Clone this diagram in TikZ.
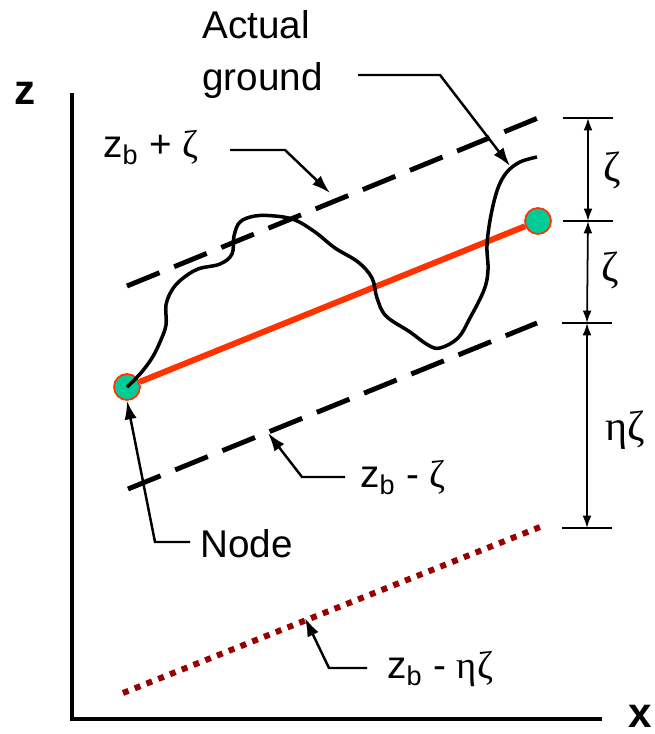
\documentclass[tikz,border=0pt]{standalone}
\usepackage{fontspec}
\setmainfont{Liberation Sans}
\newfontfamily\greekfont{Liberation Serif}
\usetikzlibrary{arrows.meta}
\definecolor{beamred}{HTML}{FF3300}
\definecolor{nodeteal}{HTML}{00CC99}
\definecolor{lowred}{HTML}{990000}

\begin{document}
\begin{tikzpicture}[x=0.02cm, y=-0.02cm, >={Latex[length=10.5pt,width=7pt]},
    lbl/.style={font=\fontsize{22}{26}\selectfont, inner sep=0pt},
    greek/.style={font=\fontsize{24}{28}\greekfont, inner sep=0pt},
    axislbl/.style={font=\fontsize{24}{28}\selectfont\bfseries, inner sep=0pt},
    leader/.style={line width=1.4pt, ->},
    band/.style={line width=2.8pt, dash pattern=on 20pt off 9pt},
    dimline/.style={line width=1pt, {Latex[length=7pt,width=5pt]}-{Latex[length=7pt,width=5pt]}},
    dimtick/.style={line width=1pt},
    bead/.style={circle, minimum size=0.52cm, inner sep=0pt, fill=nodeteal, draw=beamred, line width=1pt}]

    \useasboundingbox (0,0) rectangle (655,734);

    % 1. Points of the axes and of the three bands
    \coordinate (Zt) at (72,93);
    \coordinate (O)  at (72,719);
    \coordinate (Xr) at (602,719);
    \coordinate (U1) at (127,286); % z_b + zeta
    \coordinate (U2) at (538,118);
    \coordinate (L1) at (128,489); % z_b - zeta
    \coordinate (L2) at (537,323);
    \coordinate (D1) at (123,693); % z_b - eta zeta
    \coordinate (D2) at (540,527);

    % 2. Axes
    \draw[line width=2.3pt] (Zt) -- (O) -- (Xr);
    \node[axislbl] (zlbl) at (25,93)  {z};
    \node[axislbl] (xlbl) at (640,716) {x};

    % 3. Bands: dashed at +/- zeta, dotted at -eta zeta
    \draw[band] (U1) -- (U2);
    \draw[band] (L1) -- (L2);
    \draw[line width=3.4pt, lowred, dash pattern=on 3.4pt off 3.8pt] (D1) -- (D2);

    % 4. Element between the two nodes
    \node[bead] (nodeL) at (127,387) {};
    \node[bead] (nodeR) at (538,221) {};
    \draw[line width=3.4pt, beamred] (nodeL) -- (nodeR);

    % 5. Actual ground
    \draw[line width=2pt, line join=round, smooth, tension=0.6] plot coordinates {
      (127,387) (140,374) (152,358) (160,342) (166,325) (166,305) (172,290)
      (182,279) (198,269) (220,264) (232,254) (234,236) (240,222) (255,216)
      (275,216) (295,220) (315,232) (335,248) (358,262) (372,278) (377,298)
      (386,316) (410,332) (428,345) (440,348) (458,338) (470,318) (484,290)
      (488,270) (487,245) (491,215) (498,188) (507,172) (520,162) (537,157)};

    % 6. Labels with their leaders
    \node[lbl, anchor=base west] (actual) at (202,38) {Actual};
    \node[lbl, anchor=base west] (ground) at (202,90) {ground};
    \coordinate (ag1) at (358,75);
    \coordinate (ag2) at (440,75);
    \coordinate (agtip) at (510,166);
    \draw[leader] (ag1) -- (ag2) -- (agtip);

    \node[lbl, anchor=base west] (upper) at (103,157) {z\textsubscript{b} + {\greekfont ζ}};
    \coordinate (up1) at (230,150);
    \coordinate (up2) at (285,150);
    \coordinate (uptip) at (330,193);
    \draw[leader] (up1) -- (up2) -- (uptip);

    \node[lbl, anchor=base west] (lower) at (360,487) {z\textsubscript{b} - {\greekfont ζ}};
    \coordinate (lo1) at (345,477);
    \coordinate (lo2) at (302,477);
    \coordinate (lotip) at (268,433);
    \draw[leader] (lo1) -- (lo2) -- (lotip);

    \node[lbl, anchor=base west] (lowest) at (387,678) {z\textsubscript{b} - {\greekfont ηζ}};
    \coordinate (ls1) at (367,668);
    \coordinate (ls2) at (329,668);
    \coordinate (lstip) at (305,618);
    \draw[leader] (ls1) -- (ls2) -- (lstip);

    \node[lbl, anchor=base west] (nodelbl) at (200,557) {Node};
    \coordinate (nd1) at (190,542);
    \coordinate (nd2) at (155,542);
    \draw[leader] (nd1) -- (nd2) -- (nodeL.south);

    % 7. Dimensions on the right
    \coordinate (t1) at (588,118);
    \coordinate (t2) at (588,221);
    \coordinate (t3) at (587,323);
    \coordinate (t4) at (587,528);
    \foreach \t in {t1,t2,t3,t4}
      \draw[dimtick] ([xshift=-0.5cm]\t) -- ([xshift=0.5cm]\t);
    \draw[dimline] (t1) -- (t2);
    \draw[dimline] (t2) -- (t3);
    \draw[dimline] (t3) -- (t4);
    \node[greek] (zeta1) at (612,170) {ζ};
    \node[greek] (zeta2) at (610,270) {ζ};
    \node[greek] (etazeta) at (625,430) {ηζ};

\end{tikzpicture}
\end{document}
